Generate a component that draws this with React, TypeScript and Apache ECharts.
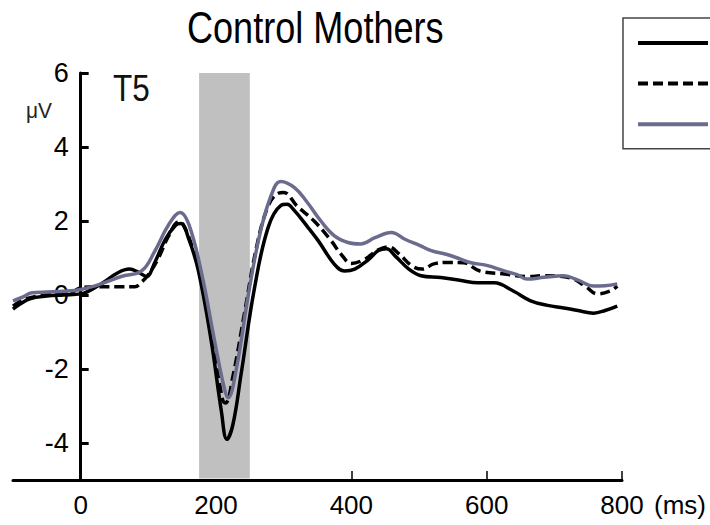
import React, { useEffect, useRef } from "react";
import * as echarts from "echarts";

// ---- data (ms, µV) ----
const solidCurve: [number, number][] = [
  [-100, -0.38], [-90, -0.25], [-75, -0.1], [-50, -0.03], [-25, 0], [0, 0.03], [30, 0.3], [55, 0.6],
  [72, 0.7], [85, 0.62], [97, 0.5], [110, 0.9], [125, 1.5], [140, 1.88], [148, 1.93], [160, 1.5],
  [174, 0.65], [193, -1.25], [208, -3.15], [216, -3.9], [225, -3.5], [237, -2.15], [257, 0.2],
  [277, 1.82], [296, 2.42], [305, 2.45], [315, 2.3], [335, 1.85], [351, 1.47], [375, 0.83],
  [390, 0.65], [405, 0.7], [425, 0.95], [440, 1.2], [452, 1.25], [465, 1.05], [485, 0.7],
  [503, 0.52], [532, 0.47], [560, 0.4], [587, 0.33], [611, 0.33], [640, 0.1], [665, -0.16],
  [690, -0.28], [714, -0.35], [735, -0.42], [758, -0.49], [775, -0.42], [793, -0.3],
];
const dashedCurve: [number, number][] = [
  [-100, -0.3], [-80, -0.1], [-50, 0.0], [-25, 0.02], [-10, 0.1], [0, 0.2], [20, 0.22], [40, 0.22],
  [60, 0.22], [80, 0.22], [90, 0.35], [100, 0.55], [115, 1.0], [130, 1.6], [145, 1.98], [150, 1.95],
  [165, 1.3], [178, 0.5], [195, -1.3], [210, -2.85], [214, -2.92], [225, -2.2], [242, -0.5],
  [260, 1.3], [277, 2.4], [292, 2.75], [300, 2.77], [320, 2.4], [345, 2.0], [370, 1.47],
  [385, 1.1], [400, 0.85], [420, 0.97], [440, 1.22], [455, 1.3], [470, 1.12], [490, 0.78],
  [505, 0.7], [522, 0.84], [545, 0.88], [566, 0.87], [590, 0.65], [626, 0.57], [660, 0.5],
  [684, 0.52], [724, 0.46], [745, 0.25], [764, 0.03], [783, 0.11], [793, 0.24],
];
const greyCurve: [number, number][] = [
  [-100, -0.16], [-85, -0.05], [-72, 0.06], [-50, 0.08], [-25, 0.1], [0, 0.15], [30, 0.3], [60, 0.5],
  [90, 0.65], [110, 1.2], [130, 1.9], [147, 2.23], [160, 1.9], [178, 0.65], [198, -1.25],
  [212, -2.5], [218, -2.78], [230, -2.0], [248, 0.03], [267, 1.82], [286, 2.9], [296, 3.07],
  [316, 2.9], [335, 2.5], [355, 2.0], [375, 1.6], [395, 1.42], [414, 1.38], [435, 1.55],
  [459, 1.69], [480, 1.5], [500, 1.35], [518, 1.2], [540, 1.1], [557, 1.0], [577, 0.87],
  [600, 0.8], [626, 0.65], [645, 0.55], [660, 0.43], [685, 0.48], [714, 0.52], [735, 0.4],
  [758, 0.24], [775, 0.25], [793, 0.3],
];
const shadedWindow = [175, 250];
const xTickLabels = [0, 200, 400, 600, 800];
const yTickLabels = [-4, -2, 0, 2, 4, 6];
const seriesNames = ["Condition 1", "Condition 2", "Condition 3"];

const FONT = '"Liberation Sans", Arial, sans-serif';
const X_MIN = -100;
const X_MAX = 800;
const GRID_LEFT = 13;
const GRID_RIGHT = 88;
const CHART_W = 710;
// y axis sits at x = 0 ms: shift it into the grid by the pixel distance from X_MIN to 0
const Y_AXIS_SHIFT = ((0 - X_MIN) / (X_MAX - X_MIN)) * (CHART_W - GRID_LEFT - GRID_RIGHT);

export default function App() {
  const ref = useRef<HTMLDivElement>(null);
  useEffect(() => {
    if (!ref.current) return;
    const chart = echarts.init(ref.current, null, { renderer: "svg" });
    chart.setOption({
      animation: false,
      backgroundColor: "#fff",
      legend: {
        orient: "vertical",
        left: 623,
        top: 18,
        itemWidth: 70,
        itemHeight: 14,
        itemGap: 28,
        padding: [18, 40, 19, 13],
        borderColor: "#444",
        borderWidth: 1.5,
        formatter: () => "",
        itemStyle: { color: "rgba(0,0,0,0)", borderWidth: 0, opacity: 0 },
        lineStyle: { width: 4 },
        data: seriesNames,
      },
      grid: {
        left: GRID_LEFT,
        right: GRID_RIGHT,
        top: 73,
        bottom: 45,
        containLabel: false,
        outerBoundsMode: "none",
      },
      xAxis: {
        type: "value",
        min: X_MIN,
        max: X_MAX,
        name: "(ms)",
        nameLocation: "end",
        nameGap: 32,
        nameTextStyle: { fontFamily: FONT, fontSize: 26, color: "#000", verticalAlign: "top", padding: [12, 0, 0, 0] },
        axisLine: { onZero: false, lineStyle: { color: "#000", width: 3 } },
        axisTick: { inside: true, length: 9, customValues: [400, 600, 800], lineStyle: { color: "#000", width: 1.5 } },
        axisLabel: { customValues: xTickLabels, margin: 12, fontFamily: FONT, fontSize: 26, color: "#000" },
        splitLine: { show: false },
      },
      yAxis: {
        type: "value",
        min: -5,
        max: 6,
        offset: -Y_AXIS_SHIFT,
        axisLine: { onZero: false, lineStyle: { color: "#000", width: 3 } },
        axisTick: { inside: true, length: 8, customValues: yTickLabels, lineStyle: { color: "#000", width: 3 } },
        axisLabel: { customValues: yTickLabels, margin: 12, fontFamily: FONT, fontSize: 27, color: "#000" },
        splitLine: { show: false },
      },
      graphic: [
        {
          type: "text",
          x: 187,
          y: 6,
          scaleX: 0.82,
          style: { text: "Control Mothers", fill: "#000", font: `44px ${FONT}` },
        },
        { type: "text", x: 113, y: 70, scaleX: 0.85, style: { text: "T5", fill: "#111", font: `37px ${FONT}` } },
        { type: "text", x: 26, y: 100, scaleX: 0.95, style: { text: "μV", fill: "#222", font: `22px ${FONT}` } },
      ],
      series: [
        {
          name: seriesNames[0],
          type: "line",
          data: solidCurve,
          symbol: "none",
          smooth: 0.4,
          lineStyle: { color: "#000", width: 3.5 },
          itemStyle: { color: "#000" },
          z: 3,
          markArea: {
            silent: true,
            itemStyle: { color: "#c0c0c0" },
            data: [[{ xAxis: shadedWindow[0], yAxis: 6 }, { xAxis: shadedWindow[1], yAxis: -4.96 }]],
          },
        },
        {
          name: seriesNames[1],
          type: "line",
          data: dashedCurve,
          symbol: "none",
          smooth: 0.4,
          lineStyle: { color: "#000", width: 3.5, type: [10, 5] },
          itemStyle: { color: "#000" },
          z: 4,
        },
        {
          name: seriesNames[2],
          type: "line",
          data: greyCurve,
          symbol: "none",
          smooth: 0.4,
          lineStyle: { color: "#6b6b8e", width: 3.5 },
          itemStyle: { color: "#6b6b8e" },
          z: 5,
        },
      ],
    });
    return () => chart.dispose();
  }, []);
  return <div ref={ref} style={{ width: 710, height: 525, position: "absolute", left: 0, top: 0 }} />;
}
